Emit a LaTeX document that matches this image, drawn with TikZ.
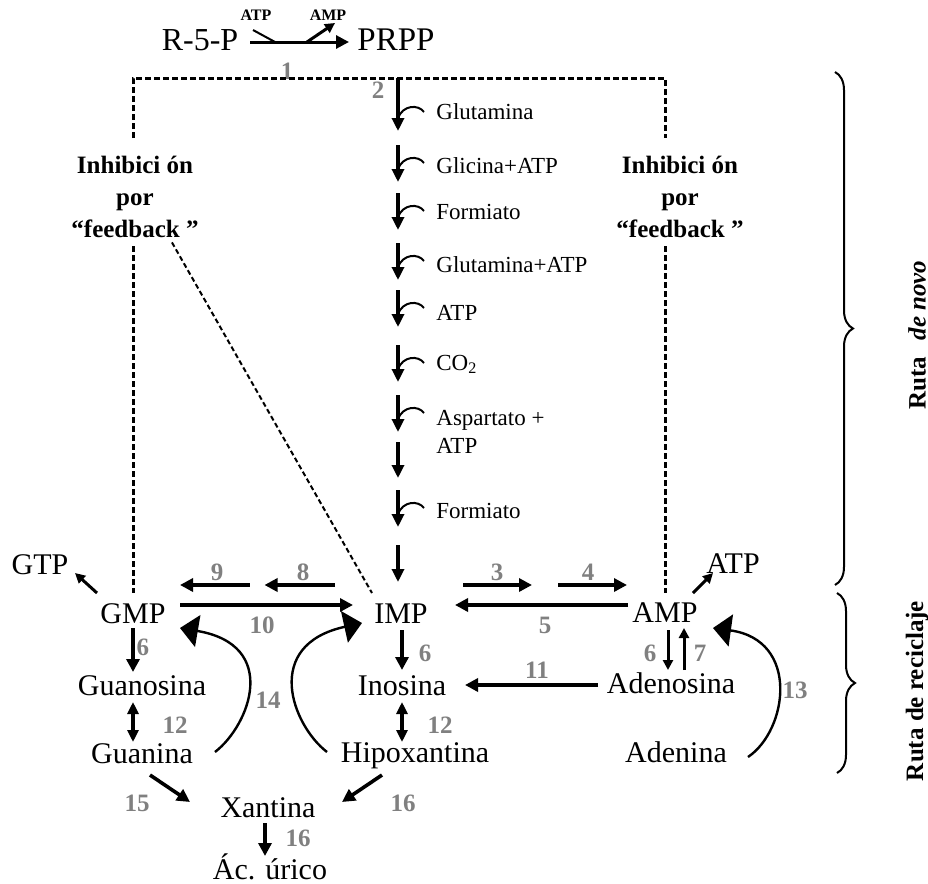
\documentclass[tikz,border=0pt]{standalone}
\usepackage{fontspec}
\setmainfont{Liberation Serif}
\usetikzlibrary{arrows.meta, decorations.pathreplacing}
\definecolor{enzgray}{RGB}{128,128,128}

\begin{document}
\begin{tikzpicture}[
    x=0.5pt, y=-0.5pt,
    metab/.style={font=\fontsize{15}{18}\selectfont, inner sep=0pt, anchor=base},
    cofac/.style={font=\fontsize{11.5}{14}\selectfont, inner sep=0pt, anchor=base west},
    cofix/.style={font=\bfseries\fontsize{8}{10}\selectfont, inner sep=0pt, anchor=base},
    enz/.style={font=\bfseries\fontsize{12.5}{14}\selectfont, text=enzgray, inner sep=0pt},
    inhib/.style={font=\bfseries\fontsize{12.5}{16}\selectfont, align=center, inner sep=0pt, anchor=north},
    ruta/.style={font=\bfseries\fontsize{12.5}{15}\selectfont, rotate=90, inner sep=0pt},
    flow/.style={-{Triangle[length=6.5pt,width=6.5pt]}, line width=1.8pt},
    stepflow/.style={-{Triangle[length=6.5pt,width=6pt]}, line width=1.6pt},
    side/.style={-{Triangle[length=5pt,width=5pt]}, line width=1.5pt},
    twoway/.style={{Triangle[length=6pt,width=5.5pt]}-{Triangle[length=6pt,width=5.5pt]}, line width=1.8pt},
    curl/.style={line width=1pt},
    salvage/.style={-{Triangle[length=9pt,width=16pt]}, line width=1.2pt},
    fb/.style={line width=1.5pt, dash pattern=on 3pt off 1.5pt},
    fbdiag/.style={line width=1pt, dash pattern=on 2.5pt off 1.5pt},
    rbrace/.style={decorate, decoration={brace, amplitude=9pt}, line width=1pt}
]
\useasboundingbox (0,0) rectangle (928,884);

% R-5-P -> PRPP (1)
\node[metab, font=\fontsize{16}{18}\selectfont] (r5p) at (200,50) {R-5-P};
\node[metab, font=\fontsize{16.5}{18}\selectfont] (prpp) at (396,50) {PRPP};
\node[cofix] (atpin) at (256,20) {ATP};
\node[cofix] (ampout) at (328,20) {AMP};
\draw[flow, line width=1.5pt] ([shift={(50,-8)}]r5p.base) -- ([shift={(-47,-8)}]prpp.base);
\draw[line width=1pt] ([shift={(-3,10)}]atpin.base) -- ([shift={(19,22)}]atpin.base);
\draw[side] ([shift={(-21,22)}]ampout.base) -- ([shift={(7,3)}]ampout.base);
\node[enz] (n1) at (287,71) {1};

% Nucleotides and bases
\node[metab] (gtp) at (40,574) {GTP};
\node[metab] (atp) at (733,573) {ATP};
\node[metab] (gmp) at (133,623) {GMP};
\node[metab] (imp) at (401,623) {IMP};
\node[metab] (amp) at (665,622) {AMP};
\node[metab] (guanosina) at (142,695) {Guanosina};
\node[metab] (inosina) at (402,695) {Inosina};
\node[metab] (adenosina) at (671,693) {Adenosina};
\node[metab] (guanina) at (142,763) {Guanina};
\node[metab] (hipox) at (415,762) {Hipoxantina};
\node[metab] (adenina) at (676,762) {Adenina};
\node[metab] (xantina) at (268,817) {Xantina};
\node[metab] (urico) at (270,879) {Ác. úrico};

% Feedback inhibition
\node[inhib] (inhibL) at (135,156) {Inhibici ón\\por\\“feedback ”};
\node[inhib] (inhibR) at (680,156) {Inhibici ón\\por\\“feedback ”};
\coordinate (fbL) at (133,78);
\coordinate (fbR) at (665,78);
\draw[fb] ([yshift=9pt]inhibL.north -| gmp.base) -- (fbL) -- (fbR) -- ([yshift=9pt]inhibR.north -| amp.base);
\draw[fb] ([yshift=-4pt]inhibL.south -| gmp.base) -- ([shift={(0,-30)}]gmp.base);
\draw[fb] ([yshift=-4pt]inhibR.south -| amp.base) -- ([shift={(0,-29)}]amp.base);
\draw[fbdiag] ([shift={(-27,4)}]inhibL.south east) -- ([shift={(-29,-30)}]imp.base);

% de novo steps PRPP -> IMP
\foreach \s/\e/\c [count=\i] in {78/131/1, 145/182/1, 193/230/1, 243/280/1, 290/327/1,
                                  345/382/1, 395/432/1, 442/478/0, 490/527/1, 545/582/0} {
  \coordinate (st\i) at (398,\s);
  \coordinate (en\i) at (398,\e);
  \draw[stepflow] (st\i) -- (en\i);
  \ifnum\c=1
    \draw[curl] ([shift={(26,-19)}]en\i) .. controls ([shift={(20,-27)}]en\i)
      and ([shift={(5,-26)}]en\i) .. ([shift={(0,-13)}]en\i);
  \fi
}
\node[enz] (n2) at (378,90) {2};
\node[cofac] (gln1) at (436,119) {Glutamina};
\node[cofac] (gly) at (436,173) {Glicina+ATP};
\node[cofac] (for1) at (436,219) {Formiato};
\node[cofac] (gln2) at (436,272) {Glutamina+ATP};
\node[cofac] (atp1) at (436,320) {ATP};
\node[cofac] (co2) at (436,370) {CO\textsubscript{2}};
\node[cofac] (asp) at (436,425) {Aspartato +};
\node[cofac] (atp2) at (436,453) {ATP};
\node[cofac] (for2) at (436,518) {Formiato};

% IMP branches
\coordinate (m89) at (257,585);
\coordinate (m34) at (545,585);
\draw[flow, shorten >=3.75pt] ([shift={(-66,-38)}]imp.base) -- (m89);
\draw[flow, shorten <=3.75pt] (m89) -- ([shift={(47,-38)}]gmp.base);
\draw[flow] ([shift={(47,-18)}]gmp.base) -- ([shift={(-48,-18)}]imp.base);
\draw[flow, shorten >=6.5pt] ([shift={(62,-38)}]imp.base) -- (m34);
\draw[flow, shorten <=6.5pt] (m34) -- ([shift={(-38,-37)}]amp.base);
\draw[flow] ([shift={(-37,-17)}]amp.base) -- ([shift={(54,-18)}]imp.base);
\draw[side] ([shift={(-36,-30)}]gmp.base) -- ([shift={(35,-1)}]gtp.base);
\draw[side] ([shift={(28,-29)}]amp.base) -- ([shift={(-20,0)}]atp.base);
\node[enz] (n9) at (217,572) {9};
\node[enz] (n8) at (303,572) {8};
\node[enz] (n10) at (262,625) {10};
\node[enz] (n3) at (497,572) {3};
\node[enz] (n4) at (588,572) {4};
\node[enz] (n5) at (545,625) {5};

% Degradation and salvage
\draw[flow] ([shift={(0,5)}]gmp.base) -- ([shift={(-9,-23)}]guanosina.base);
\draw[twoway] ([shift={(-9,7)}]guanosina.base) -- ([shift={(-9,-21)}]guanina.base);
\draw[flow] ([shift={(1,7)}]imp.base) -- ([shift={(0,-25)}]inosina.base);
\draw[twoway] ([shift={(0,7)}]inosina.base) -- ([shift={(-13,-20)}]hipox.base);
\draw[side] ([shift={(3,8)}]amp.base) -- ([shift={(-3,-23)}]adenosina.base);
\draw[side] ([shift={(13,-23)}]adenosina.base) -- ([shift={(19,6)}]amp.base);
\draw[flow] ([shift={(-73,-8)}]adenosina.base) -- ([shift={(63,-10)}]inosina.base);
\draw[salvage] ([shift={(73,-11)}]guanina.base) .. controls (250,725) and (280,645) .. ([shift={(47,5)}]gmp.base);
\draw[salvage] ([shift={(-88,-10)}]hipox.base) .. controls (292,725) and (262,645) .. ([shift={(-39,0)}]imp.base);
\draw[salvage] ([shift={(72,-5)}]adenina.base) .. controls (788,730) and (800,640) .. ([shift={(48,6)}]amp.base);
\draw[flow] ([shift={(8,12)}]guanina.base) -- ([shift={(-78,-15)}]xantina.base);
\draw[flow] ([shift={(-33,13)}]hipox.base) -- ([shift={(74,-15)}]xantina.base);
\draw[flow] ([shift={(-3,6)}]xantina.base) -- ([shift={(-5,-23)}]urico.base);
\node[enz] (n6a) at (143,647) {6};
\node[enz] (n6b) at (425,653) {6};
\node[enz] (n6c) at (650,653) {6};
\node[enz] (n7) at (700,653) {7};
\node[enz] (n11) at (537,670) {11};
\node[enz] (n13) at (795,690) {13};
\node[enz] (n14) at (268,700) {14};
\node[enz] (n12a) at (175,725) {12};
\node[enz] (n12b) at (440,725) {12};
\node[enz] (n15) at (137,803) {15};
\node[enz] (n16a) at (403,803) {16};
\node[enz] (n16b) at (298,838) {16};

% Pathway braces
\coordinate (bA) at (835,72);
\coordinate (bB) at (835,585);
\coordinate (bC) at (837,593);
\coordinate (bD) at (837,773);
\draw[rbrace] (bA) -- (bB);
\draw[rbrace] (bC) -- (bD);
\node[ruta] (novo) at (917,335) {Ruta\hspace{0.4em} \textit{de novo}};
\node[ruta] (recic) at (917,691) {Ruta de reciclaje};

\end{tikzpicture}
\end{document}
